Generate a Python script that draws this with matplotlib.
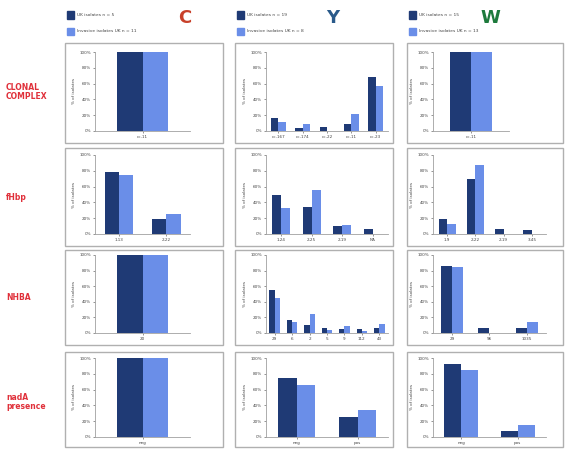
import matplotlib.pyplot as plt
from matplotlib.patches import Rectangle

# colours
dark = "#1f3a75"
light = "#6a8ee8"
red = "#e0303a"

# --- data (percent of isolates) ---
groups = ["C", "Y", "W"]
group_colors = ["#c8402a", "#2a5a8a", "#1e7a3c"]
legend_a = ["UK isolates n = 5", "UK isolates n = 19", "UK isolates n = 15"]
legend_b = ["Invasive isolates UK n = 11", "Invasive isolates UK n = 8", "Invasive isolates UK n = 13"]
row_labels = ["CLONAL\nCOMPLEX", "fHbp", "NHBA", "nadA\npresence"]

cc_C_cats = ["cc-11"]
cc_C_a = [100]
cc_C_b = [100]
cc_Y_cats = ["cc-167", "cc-174", "cc-22", "cc-11", "cc-23"]
cc_Y_a = [16, 4, 5, 9, 68]
cc_Y_b = [11, 9, 0, 22, 57]
cc_W_cats = ["cc-11"]
cc_W_a = [100]
cc_W_b = [100]

fhbp_C_cats = ["1.13", "2.22"]
fhbp_C_a = [78, 19]
fhbp_C_b = [75, 25]
fhbp_Y_cats = ["1.24", "2.25", "2.19", "NA"]
fhbp_Y_a = [50, 34, 10, 6]
fhbp_Y_b = [33, 56, 11, 0]
fhbp_W_cats = ["1.9", "2.22", "2.19", "3.45"]
fhbp_W_a = [19, 70, 6, 5]
fhbp_W_b = [13, 87, 0, 0]

nhba_C_cats = ["20"]
nhba_C_a = [100]
nhba_C_b = [100]
nhba_Y_cats = ["29", "6", "2", "5", "9", "112", "43"]
nhba_Y_a = [55, 17, 10, 6, 5, 5, 6]
nhba_Y_b = [45, 14, 24, 4, 9, 3, 11]
nhba_W_cats = ["29", "96", "1035"]
nhba_W_a = [86, 6, 6]
nhba_W_b = [85, 0, 14]

nada_C_cats = ["neg"]
nada_C_a = [100]
nada_C_b = [100]
nada_Y_cats = ["neg", "pos"]
nada_Y_a = [75, 25]
nada_Y_b = [66, 34]
nada_W_cats = ["neg", "pos"]
nada_W_a = [93, 7]
nada_W_b = [85, 15]

panels = [
    [(cc_C_cats, cc_C_a, cc_C_b), (cc_Y_cats, cc_Y_a, cc_Y_b), (cc_W_cats, cc_W_a, cc_W_b)],
    [(fhbp_C_cats, fhbp_C_a, fhbp_C_b), (fhbp_Y_cats, fhbp_Y_a, fhbp_Y_b), (fhbp_W_cats, fhbp_W_a, fhbp_W_b)],
    [(nhba_C_cats, nhba_C_a, nhba_C_b), (nhba_Y_cats, nhba_Y_a, nhba_Y_b), (nhba_W_cats, nhba_W_a, nhba_W_b)],
    [(nada_C_cats, nada_C_a, nada_C_b), (nada_Y_cats, nada_Y_a, nada_Y_b), (nada_W_cats, nada_W_a, nada_W_b)],
]

# --- layout in pixels (top-down) ---
W, H = 565, 449
box_x = [(65, 223), (235, 393), (407, 563)]
box_y = [(43, 143), (148, 246), (250, 345), (352, 447)]
plot_x = [(95, 190), (266, 388), (433, 546)]
plot_y = [(52, 131), (155, 234), (255, 333), (358, 437)]
label_y = [92, 198, 297, 402]


def fx(px):
    return px / W


def fy(py):
    return 1 - py / H


fig = plt.figure(figsize=(5.65, 4.49), dpi=100)

for c in range(3):
    # legend + column header
    lx = box_x[c][0] + 2
    for k, (txt, col) in enumerate([(legend_a[c], dark), (legend_b[c], light)]):
        yy = 15 + 16 * k
        fig.patches.append(Rectangle((fx(lx), fy(yy + 3.5)), 7 / W, 7 / H,
                                     transform=fig.transFigure, color=col))
        fig.text(fx(lx + 10), fy(yy), txt, fontsize=3.2, color="#444444", va="center")
    hx = [185, 333, 490][c]
    fig.text(fx(hx), fy(18), groups[c], fontsize=13, fontweight="bold",
             color=group_colors[c], ha="center", va="center")

for r in range(4):
    fig.text(fx(6), fy(label_y[r]), row_labels[r], fontsize=5.5, fontweight="bold",
             color=red, ha="left", va="center", linespacing=1.1)
    for c in range(3):
        bx0, bx1 = box_x[c]
        by0, by1 = box_y[r]
        fig.patches.append(Rectangle((fx(bx0), fy(by1)), (bx1 - bx0) / W, (by1 - by0) / H,
                                     transform=fig.transFigure, fill=False,
                                     edgecolor="#b0b0b0", linewidth=1.0))
        cats, a, b = panels[r][c]
        n = len(cats)
        px0, px1 = plot_x[c]
        if n == 1:
            px1 = px0 + (95 if c == 0 else 76)
        py0, py1 = plot_y[r]
        ax = fig.add_axes([fx(px0), fy(py1), (px1 - px0) / W, (py1 - py0) / H])
        xs = list(range(n))
        bw = 0.27 if n == 1 else 0.3
        ax.bar([x - bw / 2 for x in xs], a, width=bw, color=dark)
        ax.bar([x + bw / 2 for x in xs], b, width=bw, color=light)
        ax.set_xlim(-0.5, n - 0.5)
        ax.set_ylim(0, 100)
        ax.set_yticks([0, 20, 40, 60, 80, 100])
        ax.set_yticklabels(["0%", "20%", "40%", "60%", "80%", "100%"])
        ax.set_xticks(xs)
        ax.set_xticklabels(cats)
        ax.tick_params(labelsize=3, length=1.5, width=0.4, pad=1.5, colors="#444444")
        ax.set_ylabel("% of isolates", fontsize=3, color="#444444", labelpad=2)
        for s in ["top", "right"]:
            ax.spines[s].set_visible(False)
        for s in ["left", "bottom"]:
            ax.spines[s].set_color("#a0a0a0")
            ax.spines[s].set_linewidth(0.6)
        ax.set_facecolor("white")

fig.savefig("out.png", dpi=100)
